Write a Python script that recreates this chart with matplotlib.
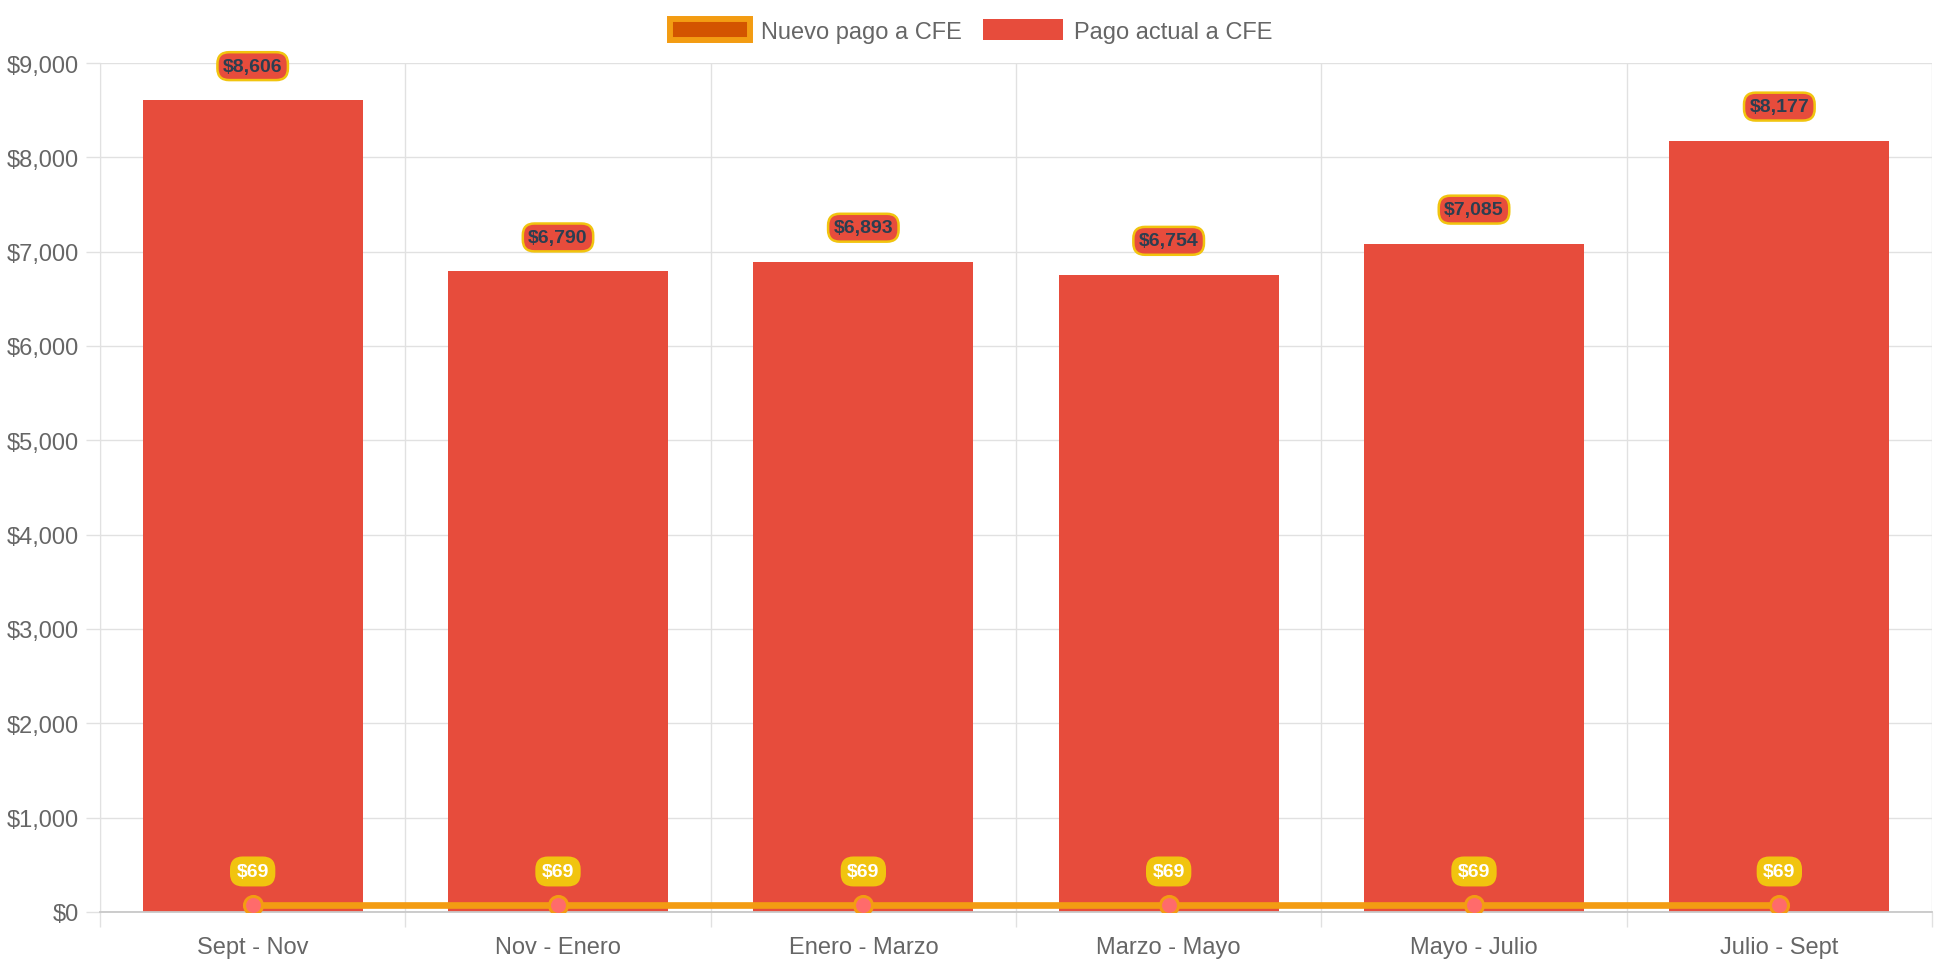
import matplotlib.pyplot as plt
from matplotlib.patches import Patch
from matplotlib.ticker import FuncFormatter, MultipleLocator

# data
periodos = ['Sept - Nov', 'Nov - Enero', 'Enero - Marzo', 'Marzo - Mayo', 'Mayo - Julio', 'Julio - Sept']
pago_actual = [8606, 6790, 6893, 6754, 7085, 8177]
pago_nuevo = [69, 69, 69, 69, 69, 69]

ROJO = '#e74c3c'
NARANJA = '#f39c12'
NARANJA_OSC = '#d35400'
AMARILLO = '#f1c40f'
GRID = '#e1e1e1'
TXT = '#666666'

plt.rcParams['font.family'] = ['Liberation Sans', 'DejaVu Sans']

fig = plt.figure(figsize=(19.42, 9.70), dpi=100)
ax = fig.add_axes([100 / 1942, 1 - 913 / 970, 1832 / 1942, 849 / 970])

x = list(range(len(periodos)))
ax.bar(x, pago_actual, width=0.72, color=ROJO, zorder=2)
ax.plot(x, pago_nuevo, color=NARANJA, lw=4.8, zorder=3, solid_capstyle='butt',
        marker='o', markersize=13, markerfacecolor='#ff6b6b',
        markeredgecolor=NARANJA, markeredgewidth=2.2)

# etiquetas de datos
for xi, v in zip(x, pago_actual):
    ax.annotate(f'${v:,}', (xi, v), xytext=(0, 24.5), textcoords='offset points',
                ha='center', va='center', fontsize=14, fontweight='bold', color='#2c3e50',
                bbox=dict(boxstyle='round,pad=0.28,rounding_size=0.6', fc=ROJO, ec=AMARILLO, lw=1.8),
                zorder=5)
for xi, v in zip(x, pago_nuevo):
    ax.annotate(f'${v:,}', (xi, v), xytext=(0, 24.5), textcoords='offset points',
                ha='center', va='center', fontsize=14, fontweight='bold', color='white',
                bbox=dict(boxstyle='round,pad=0.28,rounding_size=0.6', fc=AMARILLO, ec=AMARILLO, lw=1.5),
                zorder=5)

ax.set_xlim(-0.5, len(periodos) - 0.5)
ax.set_ylim(0, 9000)
ax.yaxis.set_major_locator(MultipleLocator(1000))
ax.yaxis.set_major_formatter(FuncFormatter(lambda v, _: f'${v:,.0f}'))

# ticks del eje x: lineas en los limites, etiquetas en el centro
ax.set_xticks([i - 0.5 for i in range(len(periodos) + 1)])
ax.set_xticklabels([])
ax.set_xticks(x, minor=True)
ax.set_xticklabels(periodos, minor=True)
ax.tick_params(axis='x', which='major', length=11, color=GRID, width=1)
ax.tick_params(axis='x', which='minor', length=0, pad=17, labelsize=17, labelcolor=TXT)
ax.tick_params(axis='y', length=10, color=GRID, width=1, pad=5, labelsize=17, labelcolor=TXT)

ax.grid(True, which='major', color=GRID, lw=1, zorder=0)
ax.set_axisbelow(True)
for s in ['top', 'right']:
    ax.spines[s].set_visible(False)
ax.spines['left'].set_color(GRID)
ax.spines['bottom'].set_color('#c8c8c8')
ax.spines['bottom'].set_linewidth(1.3)

handles = [Patch(facecolor=NARANJA_OSC, edgecolor=NARANJA, linewidth=4.3, label='Nuevo pago a CFE'),
           Patch(facecolor=ROJO, edgecolor=ROJO, linewidth=0, label='Pago actual a CFE')]
fig.legend(handles=handles, loc='center', bbox_to_anchor=(0.5, 1 - 32 / 970), ncol=2,
           frameon=False, fontsize=17, labelcolor=TXT, handlelength=3.4, handleheight=1.0,
           handletextpad=0.45, columnspacing=0.9)

fig.savefig('out.png', dpi=100)
